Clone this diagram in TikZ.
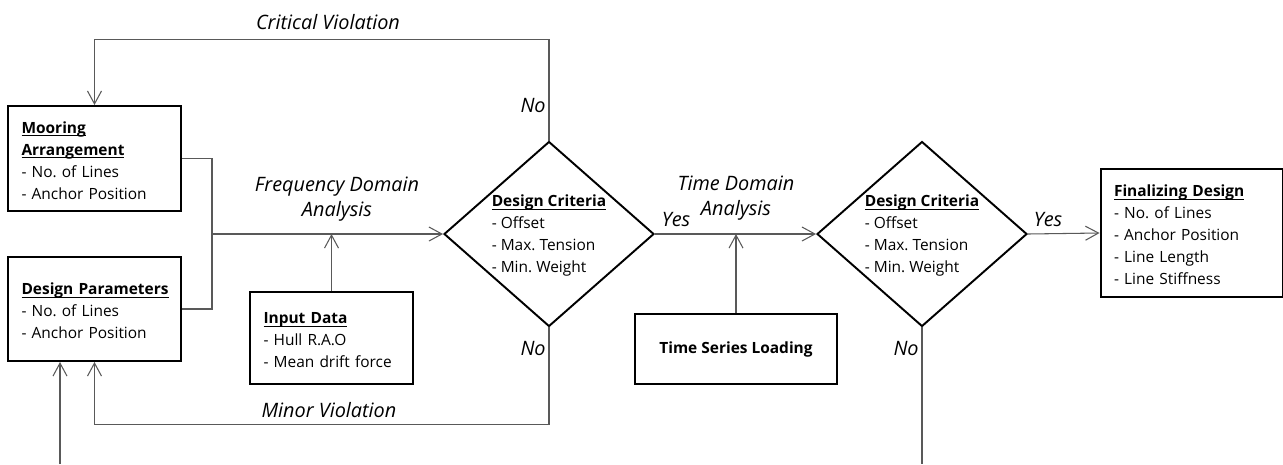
\documentclass[tikz,border=0pt]{standalone}
\usepackage{fontspec}
\setmainfont{Open Sans}
\usetikzlibrary{shapes.geometric,arrows.meta,positioning,calc}
\newcommand{\boxhead}[1]{\underline{\smash{\textbf{#1}}}\strut}
\newcommand{\crittext}[1]{\makebox[0pt]{\smash{\raisebox{-0.6ex}{\begin{tabular}[c]{@{}l@{}}#1\end{tabular}}}}}
\frenchspacing

\begin{document}
\begin{tikzpicture}[x=0.02cm, y=-0.02cm,
    box/.style={rectangle, draw, line width=1.1pt, align=left, inner xsep=0.27cm,
        font=\fontsize{8.8}{12.5}\selectfont},
    crit/.style={diamond, draw, line width=1.1pt, inner sep=0pt,
        minimum width=4.2cm, minimum height=3.7cm,
        font=\fontsize{8.8}{12.5}\selectfont},
    line/.style={draw=black!65, line width=0.6pt},
    arr/.style={line, -{Straight Barb[length=2.6mm, width=2.8mm]}},
    lbl/.style={font=\fontsize{11.3}{14.2}\selectfont\itshape, align=center, inner sep=0pt}]
    \useasboundingbox (0,0) rectangle (1283,464);

    % Input boxes
    \node[box, text width=2.92cm, minimum height=2.1cm] (moor) at (94.5,158.5)
        {\boxhead{Mooring}\\\boxhead{Arrangement}\\- No. of Lines\\- Anchor Position};
    \node[box, text width=2.92cm, minimum height=2.08cm] (par) at (94.5,309)
        {\boxhead{Design Parameters}\\- No. of Lines\\- Anchor Position};
    \node[box, text width=2.72cm, minimum height=1.84cm] (inp) at (331.5,338)
        {\boxhead{Input Data}\\- Hull R.A.O\\- Mean drift force};

    % Decisions
    \node[crit] (d1) at (549,234)
        {\crittext{\boxhead{Design Criteria}\\- Offset\\- Max. Tension\\- Min. Weight}};
    \node[crit] (d2) at (922,234)
        {\crittext{\boxhead{Design Criteria}\\- Offset\\- Max. Tension\\- Min. Weight}};

    % Loading and result
    \node[box, align=center, minimum width=4.04cm, minimum height=1.4cm,
        font=\fontsize{8.8}{12.5}\selectfont\bfseries] (tsl) at (736,349) {Time Series Loading};
    \node[box, text width=3.1cm, minimum height=2.56cm] (fin) at (1191.5,233)
        {\boxhead{Finalizing Design}\\- No. of Lines\\- Anchor Position\\- Line Length\\- Line Stiffness};

    % Connections
    \coordinate (j) at (212,234);
    \draw[line] (moor.east) -| (j);
    \draw[line] (par.east) -| (j);
    \draw[arr] (j) -- (d1.west);
    \draw[arr] (inp.north) -- (inp.north |- j);
    \draw[arr] (d1.north) -- ++(0,-101) -| (moor.north);
    \draw[arr] (d1.south) -- ++(0,97) -| (par.south);
    \coordinate (src) at (60,464);
    \draw[arr] (src) -- (src |- par.south);
    \draw[arr] (d1.east) -- (d2.west);
    \draw[arr] (tsl.north) -- (tsl.north |- d2.west);
    \draw[arr] (d2.east) -- (fin.west);
    \coordinate (exit) at (922,464);
    \draw[line] (d2.south) -- (exit);

    % Labels
    \node[lbl] (crittxt) at (328,22) {Critical Violation};
    \node[lbl, anchor=east] (no1) at (546,105) {No};
    \node[lbl] (freqtxt) at (337,199) {Frequency Domain\\Analysis};
    \node[lbl] (yes1) at (676,220) {Yes};
    \node[lbl] (timetxt) at (736,198) {Time Domain\\Analysis};
    \node[lbl, anchor=east] (no2) at (546,348) {No};
    \node[lbl] (minortxt) at (329,410) {Minor Violation};
    \node[lbl] (yes2) at (1048,220) {Yes};
    \node[lbl, anchor=east] (no3) at (919,348) {No};
\end{tikzpicture}
\end{document}
